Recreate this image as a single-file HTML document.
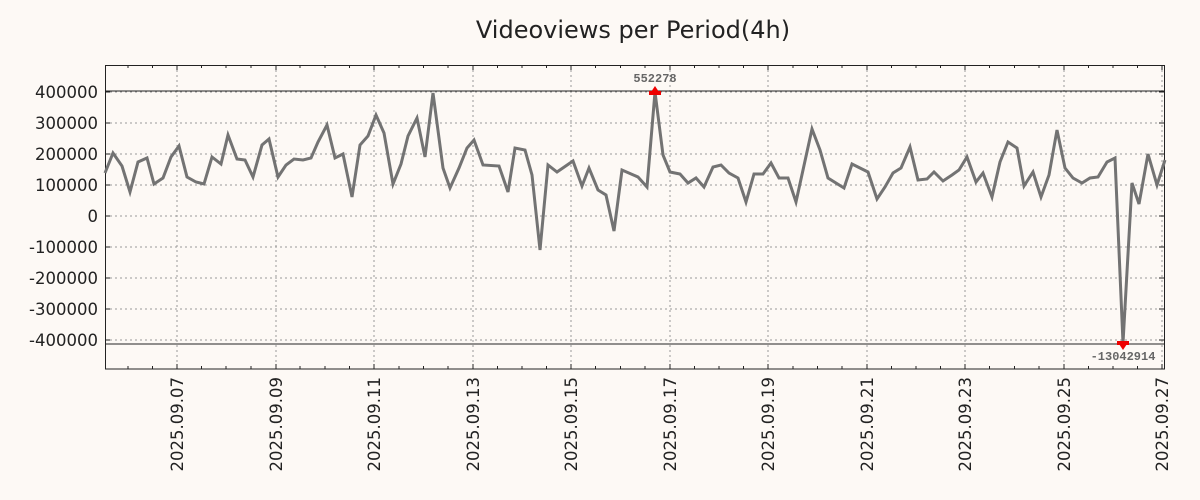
<!DOCTYPE html>
<html><head><meta charset="utf-8"><style>
html,body{margin:0;padding:0;background:#fdf9f5;}
svg{display:block;font-family:"DejaVu Sans","Liberation Sans",sans-serif;}
</style></head><body>
<svg width="1200" height="500" viewBox="0 0 1200 500">
<rect width="1200" height="500" fill="#fdf9f5"/>
<text x="633" y="38" font-size="24" text-anchor="middle" fill="#222">Videoviews per Period(4h)</text>
<g stroke="#999" stroke-width="1" stroke-dasharray="2,3">
<line x1="105" x2="1164" y1="92" y2="92"/><line x1="105" x2="1164" y1="123" y2="123"/><line x1="105" x2="1164" y1="154" y2="154"/><line x1="105" x2="1164" y1="185" y2="185"/><line x1="105" x2="1164" y1="216" y2="216"/><line x1="105" x2="1164" y1="247" y2="247"/><line x1="105" x2="1164" y1="278" y2="278"/><line x1="105" x2="1164" y1="309" y2="309"/><line x1="105" x2="1164" y1="340" y2="340"/>
<line x1="177" x2="177" y1="65" y2="369"/><line x1="276" x2="276" y1="65" y2="369"/><line x1="374" x2="374" y1="65" y2="369"/><line x1="473" x2="473" y1="65" y2="369"/><line x1="571" x2="571" y1="65" y2="369"/><line x1="670" x2="670" y1="65" y2="369"/><line x1="768" x2="768" y1="65" y2="369"/><line x1="867" x2="867" y1="65" y2="369"/><line x1="965" x2="965" y1="65" y2="369"/><line x1="1064" x2="1064" y1="65" y2="369"/><line x1="1162" x2="1162" y1="65" y2="369"/>
</g>
<g stroke="#222" stroke-width="1">
<line x1="105" x2="1164" y1="91" y2="91"/><line x1="105" x2="1164" y1="344" y2="344"/>
</g>
<g stroke="#222" stroke-width="1">
<path d="M105 92h5M105 123h5M105 154h5M105 185h5M105 216h5M105 247h5M105 278h5M105 309h5M105 340h5M1164 92h-5M1164 123h-5M1164 154h-5M1164 185h-5M1164 216h-5M1164 247h-5M1164 278h-5M1164 309h-5M1164 340h-5"/>
<path d="M128 65v3M152.5 65v3M177 65v5M201.5 65v3M226 65v3M251 65v3M276 65v5M300 65v3M325 65v3M349.5 65v3M374 65v5M399 65v3M423.5 65v3M448 65v3M473 65v5M497.5 65v3M522 65v3M546.5 65v3M571 65v5M595.5 65v3M620.5 65v3M645 65v3M670 65v5M694.5 65v3M719 65v3M743.5 65v3M768 65v5M793 65v3M817.5 65v3M842 65v3M867 65v5M891.5 65v3M916 65v3M940.5 65v3M965 65v5M989.5 65v3M1014.5 65v3M1039 65v3M1064 65v5M1088.5 65v3M1113 65v3M1137.5 65v3M1162 65v5"/>
<path d="M128 369v-3M152.5 369v-3M177 369v-5M201.5 369v-3M226 369v-3M251 369v-3M276 369v-5M300 369v-3M325 369v-3M349.5 369v-3M374 369v-5M399 369v-3M423.5 369v-3M448 369v-3M473 369v-5M497.5 369v-3M522 369v-3M546.5 369v-3M571 369v-5M595.5 369v-3M620.5 369v-3M645 369v-3M670 369v-5M694.5 369v-3M719 369v-3M743.5 369v-3M768 369v-5M793 369v-3M817.5 369v-3M842 369v-3M867 369v-5M891.5 369v-3M916 369v-3M940.5 369v-3M965 369v-5M989.5 369v-3M1014.5 369v-3M1039 369v-3M1064 369v-5M1088.5 369v-3M1113 369v-3M1137.5 369v-3M1162 369v-5"/>
</g>
<rect x="105.5" y="65.5" width="1059" height="303.5" fill="none" stroke="#222" stroke-width="1"/>
<g font-size="16.5" fill="#222" text-anchor="end">
<text x="98" y="98">400000</text><text x="98" y="129">300000</text><text x="98" y="160">200000</text><text x="98" y="191">100000</text><text x="98" y="222">0</text><text x="98" y="253">-100000</text><text x="98" y="284">-200000</text><text x="98" y="315">-300000</text><text x="98" y="346">-400000</text>
</g>
<g font-size="16.5" fill="#222" text-anchor="end">
<text transform="translate(183,377) rotate(-90)">2025.09.07</text>
<text transform="translate(282,377) rotate(-90)">2025.09.09</text>
<text transform="translate(380,377) rotate(-90)">2025.09.11</text>
<text transform="translate(479,377) rotate(-90)">2025.09.13</text>
<text transform="translate(577,377) rotate(-90)">2025.09.15</text>
<text transform="translate(676,377) rotate(-90)">2025.09.17</text>
<text transform="translate(774,377) rotate(-90)">2025.09.19</text>
<text transform="translate(873,377) rotate(-90)">2025.09.21</text>
<text transform="translate(971,377) rotate(-90)">2025.09.23</text>
<text transform="translate(1070,377) rotate(-90)">2025.09.25</text>
<text transform="translate(1168,377) rotate(-90)">2025.09.27</text>
</g>
<polyline fill="none" stroke="#737373" stroke-width="3" stroke-linejoin="miter" points="105,173 113,153 122,166 130,192 138,162 147,158 154,184 163,178 171,157 179,146 187,177 196,182 204,184 212,157 221,164 228,135 237,159 245,160 253,177 262,145 269,139 278,177 286,165 294,159 303,160 311,158 318,142 327,125 335,158 343,154 352,197 360,145 368,136 376,115 384,133 393,184 401,164 408,136 417,118 425,157 433,93 443,168 450,188 459,168 467,148 474,140 483,165 499,166 508,192 515,148 525,150 532,175 540,250 548,165 557,172 573,161 582,186 589,168 598,190 606,195 614,231 622,170 638,177 647,187 655,92 663,155 670,172 680,174 688,183 696,178 704,187 713,167 721,165 729,173 738,178 746,202 754,174 763,174 771,163 779,178 788,178 796,202 812,129 820,150 828,178 844,188 852,164 860,168 868,172 877,199 885,187 893,173 901,168 910,147 918,180 927,179 934,172 943,181 952,175 959,170 967,157 976,182 983,173 992,197 1000,162 1008,142 1017,148 1024,186 1033,172 1041,197 1049,175 1057,130 1065,168 1073,178 1082,183 1090,178 1098,177 1107,162 1115,158 1123,343 1132,183 1139,204 1148,154 1157,185 1165,160"/>
<polygon points="649,95 661,95 655,86" fill="#e00"/>
<rect x="649" y="91" width="12" height="4" fill="#e00"/>
<polygon points="1117,341 1129,341 1123,350" fill="#e00"/>
<rect x="1117" y="341" width="12" height="4" fill="#e00"/>
<g font-family="'Liberation Mono','DejaVu Sans Mono',monospace" font-size="12" font-weight="bold" fill="#666" text-anchor="middle">
<text x="655" y="82">552278</text>
<text x="1123" y="360">-13042914</text>
</g>
</svg>
</body></html>
